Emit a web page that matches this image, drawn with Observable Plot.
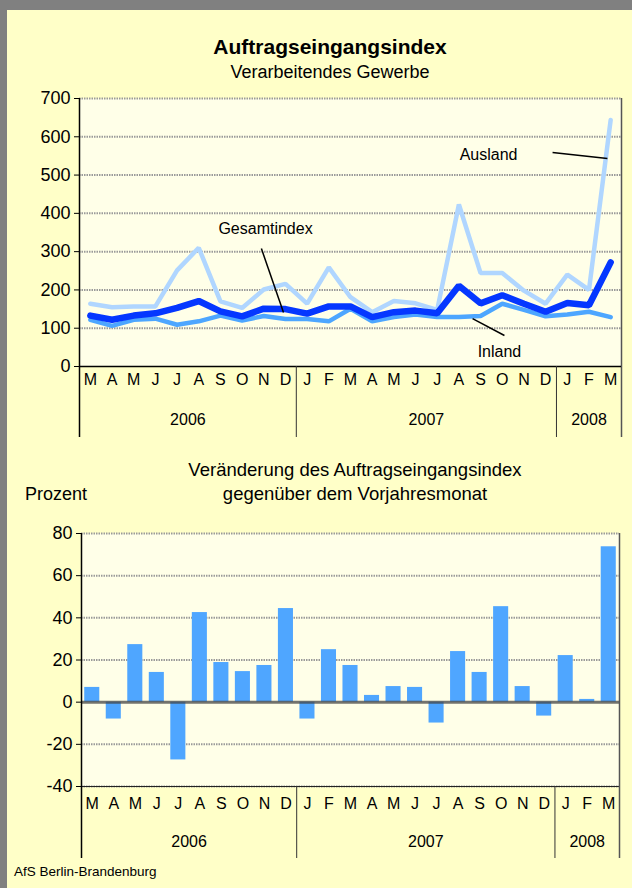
<!DOCTYPE html>
<html>
<head>
<meta charset="utf-8">
<script src="https://cdn.jsdelivr.net/npm/d3@7"></script>
<script src="https://cdn.jsdelivr.net/npm/@observablehq/plot@0.6"></script>
<style>
  body { margin: 0; background: #FFFFC8; }
  #page { position: relative; width: 632px; height: 888px; background: #FFFFC8; overflow: hidden;
          font-family: "Liberation Sans", Arial, sans-serif; color: #000; }
  .bar-top { position: absolute; left: 0; top: 0; width: 632px; height: 10px; background: #808080; }
  .bar-left { position: absolute; left: 0; top: 0; width: 7px; height: 888px; background: #808080; }
  .t { position: absolute; white-space: nowrap; line-height: 1; }
  .c { transform: translateX(-50%); }
  .chart { position: absolute; left: 0; }
</style>
</head>
<body>
<div id="page">
  <div class="bar-top"></div>
  <div class="bar-left"></div>
  <div class="t c" style="left:330px; top:36px; font-size:21px; font-weight:bold;">Auftragseingangsindex</div>
  <div class="t c" style="left:330px; top:63px; font-size:18px;">Verarbeitendes Gewerbe</div>
  <div id="top" class="chart" style="top:0px;"></div>
  <div class="t c" style="left:355px; top:461px; font-size:18.5px;">Veränderung des Auftragseingangsindex</div>
  <div class="t c" style="left:355px; top:485px; font-size:18.5px;">gegenüber dem Vorjahresmonat</div>
  <div class="t" style="left:25px; top:485px; font-size:18px;">Prozent</div>
  <div id="bottom" class="chart" style="top:450px;"></div>
  <div class="t" style="left:14px; top:865px; font-size:13.5px;">AfS Berlin-Brandenburg</div>
</div>
<script>
// ---- data ----
const months = ["M","A","M","J","J","A","S","O","N","D","J","F","M","A","M","J","J","A","S","O","N","D","J","F","M"];
const yearNames = ["2006", "2007", "2008"];
const yearLengths = [10, 12, 3];
const gesamt  = [133,122,133,139,153,171,144,131,151,150,138,157,157,129,142,146,139,211,165,186,164,143,166,160,272];
const inland  = [122,106,122,125,109,118,133,120,132,124,124,118,151,118,129,136,129,129,132,164,148,131,136,143,129];
const ausland = [164,155,157,157,251,310,170,153,201,216,164,259,181,142,171,165,148,423,244,244,198,164,240,200,644];
const change  = [7.0,-8.0,27.3,14.1,-27.4,42.5,18.8,14.5,17.4,44.4,-8.0,24.9,17.4,3.2,7.4,7.0,-9.9,24.0,14.1,45.3,7.4,-6.6,22.1,1.3,73.7];
const topTicks = [0, 100, 200, 300, 400, 500, 600, 700];
const bottomTicks = [-40, -20, 0, 20, 40, 60, 80];
const seriesNames = ["Ausland", "Inland", "Gesamtindex"];
// annotation label positions and leader lines (month index, value)
const annotations = [
  {label: "Gesamtindex", tx: 8.08, ty: 360, x1: 7.89, y1: 308, x2: 8.91, y2: 141},
  {label: "Ausland",     tx: 18.37, ty: 553, x1: 21.32, y1: 559, x2: 23.85, y2: 543},
  {label: "Inland",      tx: 18.87, ty: 37,  x1: 17.63, y1: 125, x2: 19.1,  y2: 81}
];

// ---- derived tables ----
const monthData = months.map((m, i) => ({i, m}));
let acc = 0;
const yearData = yearNames.map((y, k) => {
  const d = {y, start: acc, mid: acc + (yearLengths[k] - 1) / 2};
  acc += yearLengths[k];
  return d;
});
const innerBounds = yearData.slice(1).map(d => d.start - 0.5);
const xDomain = [-0.5, months.length - 0.5];
const seriesValues = {Ausland: ausland, Inland: inland, Gesamtindex: gesamt};
const lines = seriesNames.flatMap(s => seriesValues[s].map((v, i) => ({s, i, v})));
const changeData = change.map((v, i) => ({i, v}));

const colors = {Ausland: "#b0d6ff", Inland: "#4da6ff", Gesamtindex: "#0537ff"};
const widths = {Ausland: 4.5, Inland: 4.5, Gesamtindex: 6.5};
const font = "Liberation Sans, Arial, sans-serif";
const gridStyle = {stroke: "#9a9a9a", strokeWidth: 2, strokeDasharray: "1.5,1"};
const plainFormat = d => String(d);

function axisMarks(yMin, ext, monthDy, yearDy) {
  return [
    Plot.ruleX(innerBounds, {y1: yMin, y2: yMin, stroke: "#333", strokeWidth: 1, insetBottom: -ext}),
    Plot.text(monthData, {x: "i", text: "m", frameAnchor: "bottom", dy: monthDy, fontSize: 16}),
    Plot.text(yearData, {x: "mid", text: "y", frameAnchor: "bottom", dy: yearDy, fontSize: 16})
  ];
}

// ---- top chart ----
const topChart = Plot.plot({
  width: 632, height: 445,
  marginTop: 98, marginBottom: 79, marginLeft: 79, marginRight: 11,
  x: {domain: xDomain, axis: null},
  y: {domain: [0, 700], axis: null},
  style: {background: "transparent", fontFamily: font, color: "#000", overflow: "visible"},
  marks: [
    Plot.frame({fill: "#FFFFE8", stroke: null}),
    Plot.ruleY(topTicks.filter(t => t > 0), gridStyle),
    Plot.ruleX([xDomain[1]], {stroke: "#555", strokeWidth: 1.5, insetBottom: -71}),
    Plot.ruleX([xDomain[0]], {stroke: "#000", strokeWidth: 1.5, insetBottom: -71}),
    Plot.ruleY([0], {stroke: "#000", strokeWidth: 1.5}),
    Plot.axisY(topTicks, {tickSize: 5, tickPadding: 4, fontSize: 18, stroke: "#000", label: null, tickFormat: plainFormat}),
    ...axisMarks(0, 71, 18, 58),
    ...seriesNames.map(s => Plot.line(lines.filter(d => d.s === s), {
      x: "i", y: "v", stroke: colors[s], strokeWidth: widths[s], strokeLinejoin: "miter"
    })),
    Plot.link(annotations, {x1: "x1", y1: "y1", x2: "x2", y2: "y2", stroke: "#000", strokeWidth: 1.5}),
    Plot.text(annotations, {x: "tx", y: "ty", text: "label", fontSize: 16})
  ]
});
document.getElementById("top").append(topChart);

// ---- bottom chart ----
const bottomChart = Plot.plot({
  width: 632, height: 420,
  marginTop: 83, marginBottom: 84, marginLeft: 81, marginRight: 13,
  x: {domain: xDomain, axis: null},
  y: {domain: [-40, 80], axis: null},
  style: {background: "transparent", fontFamily: font, color: "#000", overflow: "visible"},
  marks: [
    Plot.frame({fill: "#FFFFE8", stroke: null}),
    Plot.ruleY(bottomTicks.filter(t => t !== 0), gridStyle),
    Plot.rectY(changeData, {x1: d => d.i - 0.35, x2: d => d.i + 0.35, y1: 0, y2: "v", fill: "#4fa6ff"}),
    Plot.ruleY([0], {stroke: "#444", strokeOpacity: 0.75, strokeWidth: 3}),
    Plot.ruleY([-40], {stroke: "#222", strokeWidth: 1}),
    Plot.ruleX([xDomain[1]], {stroke: "#555", strokeWidth: 1.5, insetBottom: -72}),
    Plot.ruleX([xDomain[0]], {stroke: "#000", strokeWidth: 1.5, insetBottom: -72}),
    Plot.axisY(bottomTicks, {tickSize: 5, tickPadding: 4, fontSize: 18, stroke: "#000", label: null, tickFormat: plainFormat}),
    ...axisMarks(-40, 72, 22, 60)
  ]
});
document.getElementById("bottom").append(bottomChart);
</script>
</body>
</html>
